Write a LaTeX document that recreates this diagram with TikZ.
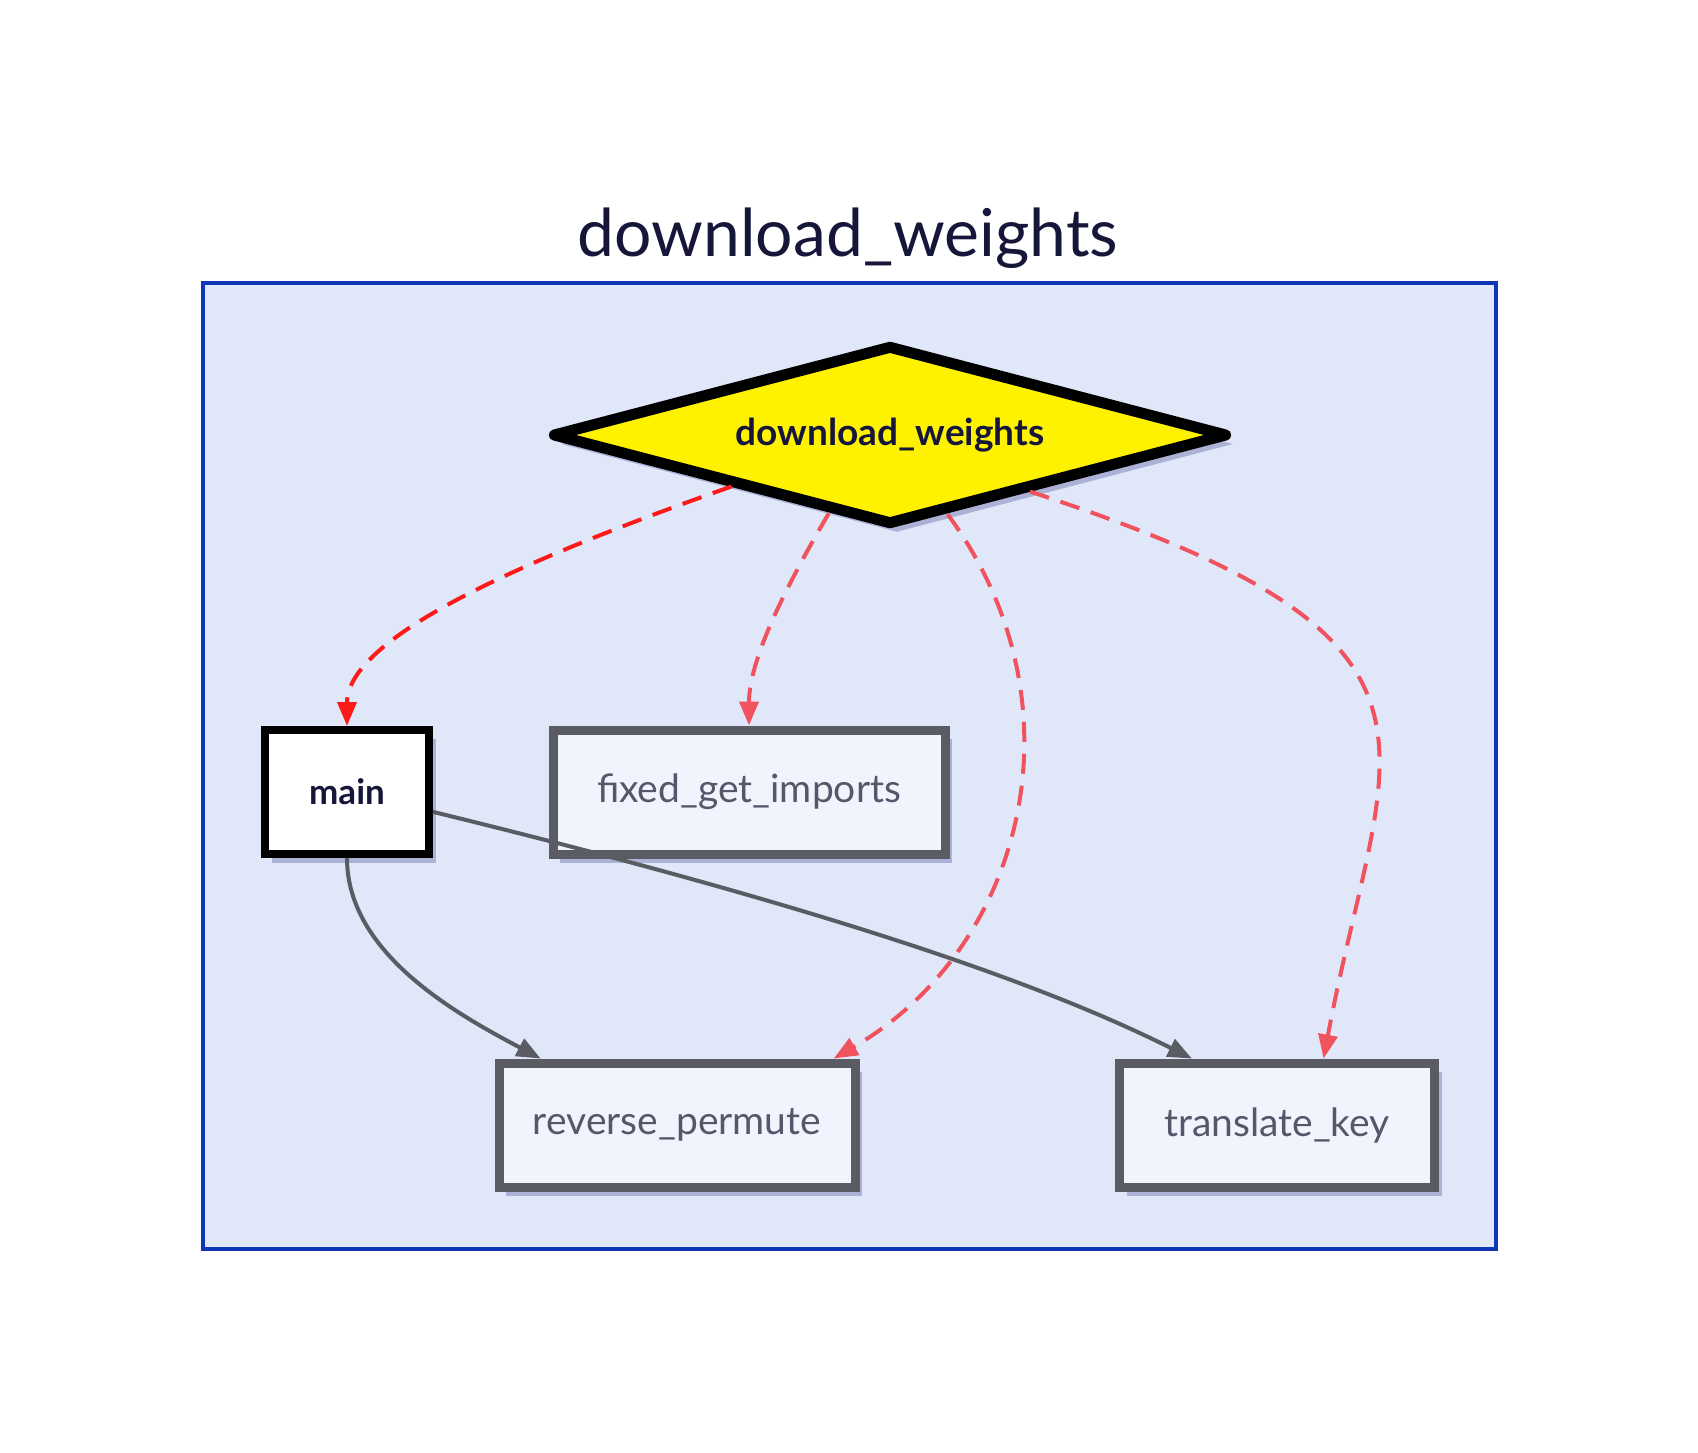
\documentclass[tikz,border=0pt]{standalone}
\usepackage{fontspec}
\setmainfont{Lato}
\usetikzlibrary{shapes.geometric,arrows.meta,shadows}

\definecolor{framefill}{HTML}{E0E7F9}
\definecolor{frameline}{HTML}{1036B8}
\definecolor{boxfill}{HTML}{F0F4FD}
\definecolor{boxline}{HTML}{5A5C63}
\definecolor{shadowc}{HTML}{ABB2D6}
\definecolor{darktext}{HTML}{15163A}
\definecolor{graytext}{HTML}{55576A}
\definecolor{callred}{HTML}{FF1A1A}
\definecolor{softred}{HTML}{F0525E}

\begin{document}
\begin{tikzpicture}[x=1pt, y=-1pt,
    boxshadow/.style={drop shadow={shadow xshift=7pt, shadow yshift=-9pt, fill=shadowc, opacity=1}},
    fnbox/.style={draw=boxline, line width=9pt, fill=boxfill, text=graytext, minimum height=124pt, boxshadow,
        font=\fontsize{39}{46}\selectfont},
    mainbox/.style={fnbox, line width=8pt, draw=black, fill=white, text=darktext, font=\fontsize{35}{42}\selectfont\bfseries},
    rootbox/.style={diamond, draw=black, line width=11pt, line join=round, fill=yellow, text=darktext, inner sep=0pt,
        minimum width=676pt, minimum height=180pt, aspect=3.75, boxshadow,
        font=\fontsize{37}{44}\selectfont\bfseries},
    calls/.style={-{Triangle[length=24pt,width=19pt]}, line width=4pt, dash pattern=on 20pt off 12pt, softred},
    uses/.style={-{Triangle[length=24pt,width=19pt]}, line width=4pt, boxline}]
    \useasboundingbox (0,0) rectangle (1698,1452);
    \node[draw=frameline, line width=4pt, fill=framefill, minimum width=1293pt, minimum height=966pt] (frame) at (849,766) {};
    \node[text=darktext, font=\fontsize{66}{74}\selectfont] (title) at (848,238) {download\_weights};

    \node[rootbox] (dw) at (890,435) {download\_weights};
    \node[mainbox, minimum width=164pt] (main) at (347,792) {main};
    \node[fnbox, minimum width=392pt] (fgi) at (749,792) {fixed\_get\_imports};
    \node[fnbox, minimum width=356pt] (rp) at (677,1125) {reverse\_permute};
    \node[fnbox, minimum width=315pt] (tk) at (1277,1125) {translate\_key};

    \draw[calls, callred] (dw.198) .. controls +(-200,70) and +(0,-90) .. (main.north);
    \draw[calls] (dw.232) .. controls +(-35,60) and +(0,-70) .. (fgi.north);
    \draw[calls] (dw.306) .. controls +(140,190) and +(190,-110) .. (rp.23);
    \draw[calls] (dw.338) .. controls +(460,150) and +(60,-320) .. (tk.55);
    \draw[uses] (main.south) .. controls +(0,95) and +(-85,-45) .. (rp.154);
    \draw[uses] (main.347) .. controls +(450,110) and +(-120,-60) .. (tk.142);
\end{tikzpicture}
\end{document}
